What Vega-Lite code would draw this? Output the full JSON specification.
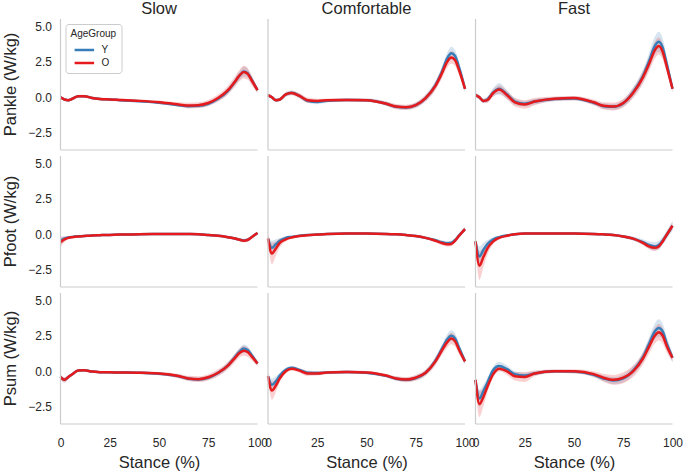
{
"$schema":"https://vega.github.io/schema/vega-lite/v6.json",
"padding":{"left":2.5,"top":0,"right":0,"bottom":0},
"bounds":"flush",
"config":{"font":"Liberation Sans","view":{"stroke":null},
 "axis":{"grid":false,"ticks":false,"domain":false,"labelFontSize":12,"labelColor":"#262626","titleFontSize":16.5,"titleFontWeight":"normal","titleColor":"#262626"},
 "header":{"labelFontSize":16.5,"labelColor":"#262626"}},
"data":{"values":[
{"m":"Pankle","s":"Slow","g":"Y","x":0,"y":0,"lo":-0.08,"hi":0.08},
{"m":"Pankle","s":"Slow","g":"Y","x":2,"y":-0.15,"lo":-0.23,"hi":-0.07},
{"m":"Pankle","s":"Slow","g":"Y","x":4,"y":-0.2,"lo":-0.28,"hi":-0.12},
{"m":"Pankle","s":"Slow","g":"Y","x":6,"y":-0.1,"lo":-0.18,"hi":-0.02},
{"m":"Pankle","s":"Slow","g":"Y","x":9,"y":0.08,"lo":0,"hi":0.16},
{"m":"Pankle","s":"Slow","g":"Y","x":12,"y":0.08,"lo":0,"hi":0.16},
{"m":"Pankle","s":"Slow","g":"Y","x":16,"y":-0.05,"lo":-0.13,"hi":0.03},
{"m":"Pankle","s":"Slow","g":"Y","x":20,"y":-0.12,"lo":-0.2,"hi":-0.04},
{"m":"Pankle","s":"Slow","g":"Y","x":25,"y":-0.15,"lo":-0.23,"hi":-0.07},
{"m":"Pankle","s":"Slow","g":"Y","x":30,"y":-0.2,"lo":-0.28,"hi":-0.12},
{"m":"Pankle","s":"Slow","g":"Y","x":40,"y":-0.28,"lo":-0.36,"hi":-0.2},
{"m":"Pankle","s":"Slow","g":"Y","x":50,"y":-0.38,"lo":-0.46,"hi":-0.3},
{"m":"Pankle","s":"Slow","g":"Y","x":60,"y":-0.55,"lo":-0.65,"hi":-0.45},
{"m":"Pankle","s":"Slow","g":"Y","x":65,"y":-0.62,"lo":-0.74,"hi":-0.5},
{"m":"Pankle","s":"Slow","g":"Y","x":70,"y":-0.6,"lo":-0.75,"hi":-0.45},
{"m":"Pankle","s":"Slow","g":"Y","x":75,"y":-0.45,"lo":-0.6,"hi":-0.3},
{"m":"Pankle","s":"Slow","g":"Y","x":80,"y":-0.1,"lo":-0.28,"hi":0.08},
{"m":"Pankle","s":"Slow","g":"Y","x":85,"y":0.45,"lo":0.23,"hi":0.67},
{"m":"Pankle","s":"Slow","g":"Y","x":88,"y":0.98,"lo":0.73,"hi":1.23},
{"m":"Pankle","s":"Slow","g":"Y","x":91,"y":1.55,"lo":1.25,"hi":1.85},
{"m":"Pankle","s":"Slow","g":"Y","x":93,"y":1.82,"lo":1.47,"hi":2.17},
{"m":"Pankle","s":"Slow","g":"Y","x":95,"y":1.7,"lo":1.4,"hi":2.0},
{"m":"Pankle","s":"Slow","g":"Y","x":97,"y":1.25,"lo":1.0,"hi":1.5},
{"m":"Pankle","s":"Slow","g":"Y","x":100,"y":0.5,"lo":0.35,"hi":0.65},
{"m":"Pankle","s":"Comfortable","g":"Y","x":0,"y":0.15,"lo":0.03,"hi":0.27},
{"m":"Pankle","s":"Comfortable","g":"Y","x":2,"y":0,"lo":-0.12,"hi":0.12},
{"m":"Pankle","s":"Comfortable","g":"Y","x":4,"y":-0.2,"lo":-0.32,"hi":-0.08},
{"m":"Pankle","s":"Comfortable","g":"Y","x":6,"y":-0.15,"lo":-0.27,"hi":-0.03},
{"m":"Pankle","s":"Comfortable","g":"Y","x":9,"y":0.2,"lo":0.05,"hi":0.35},
{"m":"Pankle","s":"Comfortable","g":"Y","x":12,"y":0.32,"lo":0.17,"hi":0.47},
{"m":"Pankle","s":"Comfortable","g":"Y","x":16,"y":0.1,"lo":-0.05,"hi":0.25},
{"m":"Pankle","s":"Comfortable","g":"Y","x":20,"y":-0.25,"lo":-0.4,"hi":-0.1},
{"m":"Pankle","s":"Comfortable","g":"Y","x":25,"y":-0.33,"lo":-0.48,"hi":-0.18},
{"m":"Pankle","s":"Comfortable","g":"Y","x":30,"y":-0.25,"lo":-0.37,"hi":-0.13},
{"m":"Pankle","s":"Comfortable","g":"Y","x":40,"y":-0.18,"lo":-0.3,"hi":-0.06},
{"m":"Pankle","s":"Comfortable","g":"Y","x":50,"y":-0.2,"lo":-0.32,"hi":-0.08},
{"m":"Pankle","s":"Comfortable","g":"Y","x":60,"y":-0.45,"lo":-0.6,"hi":-0.3},
{"m":"Pankle","s":"Comfortable","g":"Y","x":65,"y":-0.67,"lo":-0.82,"hi":-0.52},
{"m":"Pankle","s":"Comfortable","g":"Y","x":70,"y":-0.72,"lo":-0.87,"hi":-0.57},
{"m":"Pankle","s":"Comfortable","g":"Y","x":75,"y":-0.55,"lo":-0.73,"hi":-0.37},
{"m":"Pankle","s":"Comfortable","g":"Y","x":80,"y":-0.05,"lo":-0.27,"hi":0.17},
{"m":"Pankle","s":"Comfortable","g":"Y","x":85,"y":0.85,"lo":0.55,"hi":1.15},
{"m":"Pankle","s":"Comfortable","g":"Y","x":88,"y":1.7,"lo":1.35,"hi":2.05},
{"m":"Pankle","s":"Comfortable","g":"Y","x":91,"y":2.75,"lo":2.35,"hi":3.15},
{"m":"Pankle","s":"Comfortable","g":"Y","x":93,"y":3.1,"lo":2.65,"hi":3.55},
{"m":"Pankle","s":"Comfortable","g":"Y","x":95,"y":2.9,"lo":2.5,"hi":3.3},
{"m":"Pankle","s":"Comfortable","g":"Y","x":97,"y":2.1,"lo":1.75,"hi":2.45},
{"m":"Pankle","s":"Comfortable","g":"Y","x":100,"y":0.6,"lo":0.4,"hi":0.8},
{"m":"Pankle","s":"Fast","g":"Y","x":0,"y":0.15,"lo":0,"hi":0.3},
{"m":"Pankle","s":"Fast","g":"Y","x":2,"y":0,"lo":-0.15,"hi":0.15},
{"m":"Pankle","s":"Fast","g":"Y","x":4,"y":-0.25,"lo":-0.4,"hi":-0.1},
{"m":"Pankle","s":"Fast","g":"Y","x":6,"y":-0.15,"lo":-0.35,"hi":0.05},
{"m":"Pankle","s":"Fast","g":"Y","x":9,"y":0.35,"lo":0.05,"hi":0.65},
{"m":"Pankle","s":"Fast","g":"Y","x":12,"y":0.6,"lo":0.2,"hi":1.0},
{"m":"Pankle","s":"Fast","g":"Y","x":16,"y":0.2,"lo":-0.1,"hi":0.5},
{"m":"Pankle","s":"Fast","g":"Y","x":20,"y":-0.3,"lo":-0.55,"hi":-0.05},
{"m":"Pankle","s":"Fast","g":"Y","x":25,"y":-0.45,"lo":-0.65,"hi":-0.25},
{"m":"Pankle","s":"Fast","g":"Y","x":30,"y":-0.3,"lo":-0.5,"hi":-0.1},
{"m":"Pankle","s":"Fast","g":"Y","x":40,"y":-0.12,"lo":-0.27,"hi":0.03},
{"m":"Pankle","s":"Fast","g":"Y","x":50,"y":-0.08,"lo":-0.23,"hi":0.07},
{"m":"Pankle","s":"Fast","g":"Y","x":60,"y":-0.38,"lo":-0.53,"hi":-0.23},
{"m":"Pankle","s":"Fast","g":"Y","x":65,"y":-0.62,"lo":-0.82,"hi":-0.42},
{"m":"Pankle","s":"Fast","g":"Y","x":70,"y":-0.67,"lo":-0.87,"hi":-0.47},
{"m":"Pankle","s":"Fast","g":"Y","x":75,"y":-0.42,"lo":-0.67,"hi":-0.17},
{"m":"Pankle","s":"Fast","g":"Y","x":80,"y":0.35,"lo":0,"hi":0.7},
{"m":"Pankle","s":"Fast","g":"Y","x":85,"y":1.5,"lo":1.05,"hi":1.95},
{"m":"Pankle","s":"Fast","g":"Y","x":88,"y":2.5,"lo":1.95,"hi":3.05},
{"m":"Pankle","s":"Fast","g":"Y","x":91,"y":3.6,"lo":2.95,"hi":4.25},
{"m":"Pankle","s":"Fast","g":"Y","x":93,"y":3.9,"lo":3.2,"hi":4.6},
{"m":"Pankle","s":"Fast","g":"Y","x":95,"y":3.5,"lo":2.85,"hi":4.15},
{"m":"Pankle","s":"Fast","g":"Y","x":97,"y":2.4,"lo":1.9,"hi":2.9},
{"m":"Pankle","s":"Fast","g":"Y","x":100,"y":0.6,"lo":0.35,"hi":0.85},
{"m":"Pfoot","s":"Slow","g":"Y","x":0,"y":-0.45,"lo":-0.75,"hi":-0.15},
{"m":"Pfoot","s":"Slow","g":"Y","x":2,"y":-0.3,"lo":-0.45,"hi":-0.15},
{"m":"Pfoot","s":"Slow","g":"Y","x":4,"y":-0.22,"lo":-0.3,"hi":-0.14},
{"m":"Pfoot","s":"Slow","g":"Y","x":6,"y":-0.18,"lo":-0.24,"hi":-0.12},
{"m":"Pfoot","s":"Slow","g":"Y","x":9,"y":-0.14,"lo":-0.19,"hi":-0.09},
{"m":"Pfoot","s":"Slow","g":"Y","x":12,"y":-0.11,"lo":-0.16,"hi":-0.06},
{"m":"Pfoot","s":"Slow","g":"Y","x":16,"y":-0.08,"lo":-0.13,"hi":-0.03},
{"m":"Pfoot","s":"Slow","g":"Y","x":20,"y":-0.06,"lo":-0.11,"hi":-0.01},
{"m":"Pfoot","s":"Slow","g":"Y","x":25,"y":-0.04,"lo":-0.09,"hi":0.01},
{"m":"Pfoot","s":"Slow","g":"Y","x":30,"y":-0.02,"lo":-0.07,"hi":0.03},
{"m":"Pfoot","s":"Slow","g":"Y","x":40,"y":0,"lo":-0.05,"hi":0.05},
{"m":"Pfoot","s":"Slow","g":"Y","x":50,"y":0.02,"lo":-0.03,"hi":0.07},
{"m":"Pfoot","s":"Slow","g":"Y","x":60,"y":0.03,"lo":-0.02,"hi":0.08},
{"m":"Pfoot","s":"Slow","g":"Y","x":65,"y":0.02,"lo":-0.03,"hi":0.07},
{"m":"Pfoot","s":"Slow","g":"Y","x":70,"y":0,"lo":-0.05,"hi":0.05},
{"m":"Pfoot","s":"Slow","g":"Y","x":75,"y":-0.05,"lo":-0.11,"hi":0.01},
{"m":"Pfoot","s":"Slow","g":"Y","x":80,"y":-0.1,"lo":-0.16,"hi":-0.04},
{"m":"Pfoot","s":"Slow","g":"Y","x":85,"y":-0.2,"lo":-0.28,"hi":-0.12},
{"m":"Pfoot","s":"Slow","g":"Y","x":88,"y":-0.28,"lo":-0.36,"hi":-0.2},
{"m":"Pfoot","s":"Slow","g":"Y","x":91,"y":-0.38,"lo":-0.48,"hi":-0.28},
{"m":"Pfoot","s":"Slow","g":"Y","x":93,"y":-0.43,"lo":-0.53,"hi":-0.33},
{"m":"Pfoot","s":"Slow","g":"Y","x":95,"y":-0.38,"lo":-0.48,"hi":-0.28},
{"m":"Pfoot","s":"Slow","g":"Y","x":97,"y":-0.2,"lo":-0.3,"hi":-0.1},
{"m":"Pfoot","s":"Slow","g":"Y","x":100,"y":0.1,"lo":0,"hi":0.2},
{"m":"Pfoot","s":"Comfortable","g":"Y","x":0,"y":-0.3,"lo":-0.5,"hi":-0.1},
{"m":"Pfoot","s":"Comfortable","g":"Y","x":2,"y":-0.95,"lo":-1.45,"hi":-0.45},
{"m":"Pfoot","s":"Comfortable","g":"Y","x":4,"y":-0.7,"lo":-1.05,"hi":-0.35},
{"m":"Pfoot","s":"Comfortable","g":"Y","x":6,"y":-0.45,"lo":-0.65,"hi":-0.25},
{"m":"Pfoot","s":"Comfortable","g":"Y","x":9,"y":-0.25,"lo":-0.37,"hi":-0.13},
{"m":"Pfoot","s":"Comfortable","g":"Y","x":12,"y":-0.18,"lo":-0.26,"hi":-0.1},
{"m":"Pfoot","s":"Comfortable","g":"Y","x":16,"y":-0.1,"lo":-0.16,"hi":-0.04},
{"m":"Pfoot","s":"Comfortable","g":"Y","x":20,"y":-0.05,"lo":-0.1,"hi":0},
{"m":"Pfoot","s":"Comfortable","g":"Y","x":25,"y":-0.02,"lo":-0.07,"hi":0.03},
{"m":"Pfoot","s":"Comfortable","g":"Y","x":30,"y":0.02,"lo":-0.03,"hi":0.07},
{"m":"Pfoot","s":"Comfortable","g":"Y","x":40,"y":0.05,"lo":0,"hi":0.1},
{"m":"Pfoot","s":"Comfortable","g":"Y","x":50,"y":0.05,"lo":0,"hi":0.1},
{"m":"Pfoot","s":"Comfortable","g":"Y","x":60,"y":0.03,"lo":-0.02,"hi":0.08},
{"m":"Pfoot","s":"Comfortable","g":"Y","x":65,"y":0,"lo":-0.05,"hi":0.05},
{"m":"Pfoot","s":"Comfortable","g":"Y","x":70,"y":-0.05,"lo":-0.11,"hi":0.01},
{"m":"Pfoot","s":"Comfortable","g":"Y","x":75,"y":-0.12,"lo":-0.2,"hi":-0.04},
{"m":"Pfoot","s":"Comfortable","g":"Y","x":80,"y":-0.25,"lo":-0.35,"hi":-0.15},
{"m":"Pfoot","s":"Comfortable","g":"Y","x":85,"y":-0.42,"lo":-0.54,"hi":-0.3},
{"m":"Pfoot","s":"Comfortable","g":"Y","x":88,"y":-0.55,"lo":-0.7,"hi":-0.4},
{"m":"Pfoot","s":"Comfortable","g":"Y","x":91,"y":-0.62,"lo":-0.77,"hi":-0.47},
{"m":"Pfoot","s":"Comfortable","g":"Y","x":93,"y":-0.6,"lo":-0.75,"hi":-0.45},
{"m":"Pfoot","s":"Comfortable","g":"Y","x":95,"y":-0.4,"lo":-0.55,"hi":-0.25},
{"m":"Pfoot","s":"Comfortable","g":"Y","x":97,"y":-0.08,"lo":-0.23,"hi":0.07},
{"m":"Pfoot","s":"Comfortable","g":"Y","x":100,"y":0.37,"lo":0.22,"hi":0.52},
{"m":"Pfoot","s":"Fast","g":"Y","x":0,"y":-0.5,"lo":-0.8,"hi":-0.2},
{"m":"Pfoot","s":"Fast","g":"Y","x":2,"y":-1.55,"lo":-2.25,"hi":-0.85},
{"m":"Pfoot","s":"Fast","g":"Y","x":4,"y":-1.1,"lo":-1.6,"hi":-0.6},
{"m":"Pfoot","s":"Fast","g":"Y","x":6,"y":-0.7,"lo":-1.0,"hi":-0.4},
{"m":"Pfoot","s":"Fast","g":"Y","x":9,"y":-0.35,"lo":-0.5,"hi":-0.2},
{"m":"Pfoot","s":"Fast","g":"Y","x":12,"y":-0.2,"lo":-0.3,"hi":-0.1},
{"m":"Pfoot","s":"Fast","g":"Y","x":16,"y":-0.08,"lo":-0.15,"hi":-0.01},
{"m":"Pfoot","s":"Fast","g":"Y","x":20,"y":0,"lo":-0.06,"hi":0.06},
{"m":"Pfoot","s":"Fast","g":"Y","x":25,"y":0.05,"lo":0,"hi":0.1},
{"m":"Pfoot","s":"Fast","g":"Y","x":30,"y":0.05,"lo":0,"hi":0.1},
{"m":"Pfoot","s":"Fast","g":"Y","x":40,"y":0.05,"lo":0,"hi":0.1},
{"m":"Pfoot","s":"Fast","g":"Y","x":50,"y":0.05,"lo":0,"hi":0.1},
{"m":"Pfoot","s":"Fast","g":"Y","x":60,"y":0.03,"lo":-0.02,"hi":0.08},
{"m":"Pfoot","s":"Fast","g":"Y","x":65,"y":0,"lo":-0.05,"hi":0.05},
{"m":"Pfoot","s":"Fast","g":"Y","x":70,"y":-0.05,"lo":-0.13,"hi":0.03},
{"m":"Pfoot","s":"Fast","g":"Y","x":75,"y":-0.15,"lo":-0.25,"hi":-0.05},
{"m":"Pfoot","s":"Fast","g":"Y","x":80,"y":-0.3,"lo":-0.45,"hi":-0.15},
{"m":"Pfoot","s":"Fast","g":"Y","x":85,"y":-0.55,"lo":-0.75,"hi":-0.35},
{"m":"Pfoot","s":"Fast","g":"Y","x":88,"y":-0.75,"lo":-1.0,"hi":-0.5},
{"m":"Pfoot","s":"Fast","g":"Y","x":91,"y":-0.85,"lo":-1.15,"hi":-0.55},
{"m":"Pfoot","s":"Fast","g":"Y","x":93,"y":-0.75,"lo":-1.05,"hi":-0.45},
{"m":"Pfoot","s":"Fast","g":"Y","x":95,"y":-0.45,"lo":-0.75,"hi":-0.15},
{"m":"Pfoot","s":"Fast","g":"Y","x":97,"y":-0.05,"lo":-0.35,"hi":0.25},
{"m":"Pfoot","s":"Fast","g":"Y","x":100,"y":0.6,"lo":0.25,"hi":0.95},
{"m":"Psum","s":"Slow","g":"Y","x":0,"y":-0.4,"lo":-0.55,"hi":-0.25},
{"m":"Psum","s":"Slow","g":"Y","x":2,"y":-0.6,"lo":-0.75,"hi":-0.45},
{"m":"Psum","s":"Slow","g":"Y","x":4,"y":-0.4,"lo":-0.52,"hi":-0.28},
{"m":"Psum","s":"Slow","g":"Y","x":6,"y":-0.2,"lo":-0.3,"hi":-0.1},
{"m":"Psum","s":"Slow","g":"Y","x":9,"y":0.05,"lo":-0.03,"hi":0.13},
{"m":"Psum","s":"Slow","g":"Y","x":12,"y":0.08,"lo":0,"hi":0.16},
{"m":"Psum","s":"Slow","g":"Y","x":16,"y":-0.02,"lo":-0.1,"hi":0.06},
{"m":"Psum","s":"Slow","g":"Y","x":20,"y":-0.06,"lo":-0.14,"hi":0.02},
{"m":"Psum","s":"Slow","g":"Y","x":25,"y":-0.07,"lo":-0.15,"hi":0.01},
{"m":"Psum","s":"Slow","g":"Y","x":30,"y":-0.08,"lo":-0.16,"hi":0},
{"m":"Psum","s":"Slow","g":"Y","x":40,"y":-0.1,"lo":-0.18,"hi":-0.02},
{"m":"Psum","s":"Slow","g":"Y","x":50,"y":-0.17,"lo":-0.27,"hi":-0.07},
{"m":"Psum","s":"Slow","g":"Y","x":60,"y":-0.35,"lo":-0.47,"hi":-0.23},
{"m":"Psum","s":"Slow","g":"Y","x":65,"y":-0.52,"lo":-0.67,"hi":-0.37},
{"m":"Psum","s":"Slow","g":"Y","x":70,"y":-0.57,"lo":-0.72,"hi":-0.42},
{"m":"Psum","s":"Slow","g":"Y","x":75,"y":-0.45,"lo":-0.6,"hi":-0.3},
{"m":"Psum","s":"Slow","g":"Y","x":80,"y":-0.12,"lo":-0.3,"hi":0.06},
{"m":"Psum","s":"Slow","g":"Y","x":85,"y":0.42,"lo":0.22,"hi":0.62},
{"m":"Psum","s":"Slow","g":"Y","x":88,"y":0.9,"lo":0.68,"hi":1.12},
{"m":"Psum","s":"Slow","g":"Y","x":91,"y":1.4,"lo":1.15,"hi":1.65},
{"m":"Psum","s":"Slow","g":"Y","x":93,"y":1.6,"lo":1.32,"hi":1.88},
{"m":"Psum","s":"Slow","g":"Y","x":95,"y":1.5,"lo":1.25,"hi":1.75},
{"m":"Psum","s":"Slow","g":"Y","x":97,"y":1.15,"lo":0.93,"hi":1.37},
{"m":"Psum","s":"Slow","g":"Y","x":100,"y":0.55,"lo":0.4,"hi":0.7},
{"m":"Psum","s":"Comfortable","g":"Y","x":0,"y":-0.35,"lo":-0.55,"hi":-0.15},
{"m":"Psum","s":"Comfortable","g":"Y","x":2,"y":-0.95,"lo":-1.4,"hi":-0.5},
{"m":"Psum","s":"Comfortable","g":"Y","x":4,"y":-0.7,"lo":-1.05,"hi":-0.35},
{"m":"Psum","s":"Comfortable","g":"Y","x":6,"y":-0.3,"lo":-0.5,"hi":-0.1},
{"m":"Psum","s":"Comfortable","g":"Y","x":9,"y":0.1,"lo":-0.05,"hi":0.25},
{"m":"Psum","s":"Comfortable","g":"Y","x":12,"y":0.25,"lo":0.13,"hi":0.37},
{"m":"Psum","s":"Comfortable","g":"Y","x":16,"y":0.1,"lo":-0.02,"hi":0.22},
{"m":"Psum","s":"Comfortable","g":"Y","x":20,"y":-0.1,"lo":-0.25,"hi":0.05},
{"m":"Psum","s":"Comfortable","g":"Y","x":25,"y":-0.12,"lo":-0.24,"hi":0},
{"m":"Psum","s":"Comfortable","g":"Y","x":30,"y":-0.08,"lo":-0.18,"hi":0.02},
{"m":"Psum","s":"Comfortable","g":"Y","x":40,"y":-0.05,"lo":-0.15,"hi":0.05},
{"m":"Psum","s":"Comfortable","g":"Y","x":50,"y":-0.1,"lo":-0.2,"hi":0},
{"m":"Psum","s":"Comfortable","g":"Y","x":60,"y":-0.32,"lo":-0.44,"hi":-0.2},
{"m":"Psum","s":"Comfortable","g":"Y","x":65,"y":-0.52,"lo":-0.67,"hi":-0.37},
{"m":"Psum","s":"Comfortable","g":"Y","x":70,"y":-0.6,"lo":-0.75,"hi":-0.45},
{"m":"Psum","s":"Comfortable","g":"Y","x":75,"y":-0.47,"lo":-0.65,"hi":-0.29},
{"m":"Psum","s":"Comfortable","g":"Y","x":80,"y":-0.1,"lo":-0.3,"hi":0.1},
{"m":"Psum","s":"Comfortable","g":"Y","x":85,"y":0.75,"lo":0.47,"hi":1.03},
{"m":"Psum","s":"Comfortable","g":"Y","x":88,"y":1.5,"lo":1.2,"hi":1.8},
{"m":"Psum","s":"Comfortable","g":"Y","x":91,"y":2.25,"lo":1.9,"hi":2.6},
{"m":"Psum","s":"Comfortable","g":"Y","x":93,"y":2.5,"lo":2.12,"hi":2.88},
{"m":"Psum","s":"Comfortable","g":"Y","x":95,"y":2.3,"lo":1.95,"hi":2.65},
{"m":"Psum","s":"Comfortable","g":"Y","x":97,"y":1.65,"lo":1.35,"hi":1.95},
{"m":"Psum","s":"Comfortable","g":"Y","x":100,"y":0.7,"lo":0.5,"hi":0.9},
{"m":"Psum","s":"Fast","g":"Y","x":0,"y":-0.6,"lo":-0.85,"hi":-0.35},
{"m":"Psum","s":"Fast","g":"Y","x":2,"y":-1.9,"lo":-2.5,"hi":-1.3},
{"m":"Psum","s":"Fast","g":"Y","x":4,"y":-1.4,"lo":-1.85,"hi":-0.95},
{"m":"Psum","s":"Fast","g":"Y","x":6,"y":-0.8,"lo":-1.1,"hi":-0.5},
{"m":"Psum","s":"Fast","g":"Y","x":9,"y":0.1,"lo":-0.15,"hi":0.35},
{"m":"Psum","s":"Fast","g":"Y","x":12,"y":0.37,"lo":0.07,"hi":0.67},
{"m":"Psum","s":"Fast","g":"Y","x":16,"y":0.15,"lo":-0.1,"hi":0.4},
{"m":"Psum","s":"Fast","g":"Y","x":20,"y":-0.2,"lo":-0.4,"hi":0},
{"m":"Psum","s":"Fast","g":"Y","x":25,"y":-0.3,"lo":-0.5,"hi":-0.1},
{"m":"Psum","s":"Fast","g":"Y","x":30,"y":-0.15,"lo":-0.3,"hi":0},
{"m":"Psum","s":"Fast","g":"Y","x":40,"y":0,"lo":-0.12,"hi":0.12},
{"m":"Psum","s":"Fast","g":"Y","x":50,"y":-0.02,"lo":-0.14,"hi":0.1},
{"m":"Psum","s":"Fast","g":"Y","x":60,"y":-0.25,"lo":-0.4,"hi":-0.1},
{"m":"Psum","s":"Fast","g":"Y","x":65,"y":-0.5,"lo":-0.7,"hi":-0.3},
{"m":"Psum","s":"Fast","g":"Y","x":70,"y":-0.65,"lo":-0.9,"hi":-0.4},
{"m":"Psum","s":"Fast","g":"Y","x":75,"y":-0.5,"lo":-0.78,"hi":-0.22},
{"m":"Psum","s":"Fast","g":"Y","x":80,"y":0.05,"lo":-0.25,"hi":0.35},
{"m":"Psum","s":"Fast","g":"Y","x":85,"y":1.0,"lo":0.62,"hi":1.38},
{"m":"Psum","s":"Fast","g":"Y","x":88,"y":1.9,"lo":1.45,"hi":2.35},
{"m":"Psum","s":"Fast","g":"Y","x":91,"y":2.8,"lo":2.25,"hi":3.35},
{"m":"Psum","s":"Fast","g":"Y","x":93,"y":3.05,"lo":2.45,"hi":3.65},
{"m":"Psum","s":"Fast","g":"Y","x":95,"y":2.8,"lo":2.25,"hi":3.35},
{"m":"Psum","s":"Fast","g":"Y","x":97,"y":2.0,"lo":1.55,"hi":2.45},
{"m":"Psum","s":"Fast","g":"Y","x":100,"y":0.95,"lo":0.65,"hi":1.25},
{"m":"Pankle","s":"Slow","g":"O","x":0,"y":0,"lo":-0.1,"hi":0.1},
{"m":"Pankle","s":"Slow","g":"O","x":2,"y":-0.15,"lo":-0.25,"hi":-0.05},
{"m":"Pankle","s":"Slow","g":"O","x":4,"y":-0.2,"lo":-0.3,"hi":-0.1},
{"m":"Pankle","s":"Slow","g":"O","x":6,"y":-0.1,"lo":-0.2,"hi":0},
{"m":"Pankle","s":"Slow","g":"O","x":9,"y":0.08,"lo":-0.02,"hi":0.18},
{"m":"Pankle","s":"Slow","g":"O","x":12,"y":0.08,"lo":-0.02,"hi":0.18},
{"m":"Pankle","s":"Slow","g":"O","x":16,"y":-0.05,"lo":-0.15,"hi":0.05},
{"m":"Pankle","s":"Slow","g":"O","x":20,"y":-0.12,"lo":-0.22,"hi":-0.02},
{"m":"Pankle","s":"Slow","g":"O","x":25,"y":-0.15,"lo":-0.25,"hi":-0.05},
{"m":"Pankle","s":"Slow","g":"O","x":30,"y":-0.18,"lo":-0.28,"hi":-0.08},
{"m":"Pankle","s":"Slow","g":"O","x":40,"y":-0.25,"lo":-0.35,"hi":-0.15},
{"m":"Pankle","s":"Slow","g":"O","x":50,"y":-0.35,"lo":-0.47,"hi":-0.23},
{"m":"Pankle","s":"Slow","g":"O","x":60,"y":-0.5,"lo":-0.65,"hi":-0.35},
{"m":"Pankle","s":"Slow","g":"O","x":65,"y":-0.58,"lo":-0.78,"hi":-0.38},
{"m":"Pankle","s":"Slow","g":"O","x":70,"y":-0.55,"lo":-0.75,"hi":-0.35},
{"m":"Pankle","s":"Slow","g":"O","x":75,"y":-0.4,"lo":-0.62,"hi":-0.18},
{"m":"Pankle","s":"Slow","g":"O","x":80,"y":-0.05,"lo":-0.3,"hi":0.2},
{"m":"Pankle","s":"Slow","g":"O","x":85,"y":0.5,"lo":0.2,"hi":0.8},
{"m":"Pankle","s":"Slow","g":"O","x":88,"y":1.0,"lo":0.65,"hi":1.35},
{"m":"Pankle","s":"Slow","g":"O","x":91,"y":1.55,"lo":1.15,"hi":1.95},
{"m":"Pankle","s":"Slow","g":"O","x":93,"y":1.78,"lo":1.33,"hi":2.23},
{"m":"Pankle","s":"Slow","g":"O","x":95,"y":1.65,"lo":1.25,"hi":2.05},
{"m":"Pankle","s":"Slow","g":"O","x":97,"y":1.2,"lo":0.85,"hi":1.55},
{"m":"Pankle","s":"Slow","g":"O","x":100,"y":0.5,"lo":0.3,"hi":0.7},
{"m":"Pankle","s":"Comfortable","g":"O","x":0,"y":0.15,"lo":0.03,"hi":0.27},
{"m":"Pankle","s":"Comfortable","g":"O","x":2,"y":0,"lo":-0.12,"hi":0.12},
{"m":"Pankle","s":"Comfortable","g":"O","x":4,"y":-0.2,"lo":-0.32,"hi":-0.08},
{"m":"Pankle","s":"Comfortable","g":"O","x":6,"y":-0.15,"lo":-0.27,"hi":-0.03},
{"m":"Pankle","s":"Comfortable","g":"O","x":9,"y":0.2,"lo":0.05,"hi":0.35},
{"m":"Pankle","s":"Comfortable","g":"O","x":12,"y":0.3,"lo":0.15,"hi":0.45},
{"m":"Pankle","s":"Comfortable","g":"O","x":16,"y":0.1,"lo":-0.08,"hi":0.28},
{"m":"Pankle","s":"Comfortable","g":"O","x":20,"y":-0.2,"lo":-0.38,"hi":-0.02},
{"m":"Pankle","s":"Comfortable","g":"O","x":25,"y":-0.25,"lo":-0.4,"hi":-0.1},
{"m":"Pankle","s":"Comfortable","g":"O","x":30,"y":-0.2,"lo":-0.32,"hi":-0.08},
{"m":"Pankle","s":"Comfortable","g":"O","x":40,"y":-0.18,"lo":-0.3,"hi":-0.06},
{"m":"Pankle","s":"Comfortable","g":"O","x":50,"y":-0.2,"lo":-0.32,"hi":-0.08},
{"m":"Pankle","s":"Comfortable","g":"O","x":60,"y":-0.45,"lo":-0.6,"hi":-0.3},
{"m":"Pankle","s":"Comfortable","g":"O","x":65,"y":-0.65,"lo":-0.83,"hi":-0.47},
{"m":"Pankle","s":"Comfortable","g":"O","x":70,"y":-0.7,"lo":-0.88,"hi":-0.52},
{"m":"Pankle","s":"Comfortable","g":"O","x":75,"y":-0.55,"lo":-0.75,"hi":-0.35},
{"m":"Pankle","s":"Comfortable","g":"O","x":80,"y":-0.05,"lo":-0.3,"hi":0.2},
{"m":"Pankle","s":"Comfortable","g":"O","x":85,"y":0.8,"lo":0.5,"hi":1.1},
{"m":"Pankle","s":"Comfortable","g":"O","x":88,"y":1.6,"lo":1.25,"hi":1.95},
{"m":"Pankle","s":"Comfortable","g":"O","x":91,"y":2.5,"lo":2.1,"hi":2.9},
{"m":"Pankle","s":"Comfortable","g":"O","x":93,"y":2.8,"lo":2.35,"hi":3.25},
{"m":"Pankle","s":"Comfortable","g":"O","x":95,"y":2.6,"lo":2.18,"hi":3.02},
{"m":"Pankle","s":"Comfortable","g":"O","x":97,"y":1.9,"lo":1.55,"hi":2.25},
{"m":"Pankle","s":"Comfortable","g":"O","x":100,"y":0.6,"lo":0.4,"hi":0.8},
{"m":"Pankle","s":"Fast","g":"O","x":0,"y":0.15,"lo":0,"hi":0.3},
{"m":"Pankle","s":"Fast","g":"O","x":2,"y":0,"lo":-0.15,"hi":0.15},
{"m":"Pankle","s":"Fast","g":"O","x":4,"y":-0.25,"lo":-0.4,"hi":-0.1},
{"m":"Pankle","s":"Fast","g":"O","x":6,"y":-0.2,"lo":-0.4,"hi":0},
{"m":"Pankle","s":"Fast","g":"O","x":9,"y":0.3,"lo":0.05,"hi":0.55},
{"m":"Pankle","s":"Fast","g":"O","x":12,"y":0.55,"lo":0.25,"hi":0.85},
{"m":"Pankle","s":"Fast","g":"O","x":16,"y":0.15,"lo":-0.15,"hi":0.45},
{"m":"Pankle","s":"Fast","g":"O","x":20,"y":-0.35,"lo":-0.65,"hi":-0.05},
{"m":"Pankle","s":"Fast","g":"O","x":25,"y":-0.5,"lo":-0.8,"hi":-0.2},
{"m":"Pankle","s":"Fast","g":"O","x":30,"y":-0.3,"lo":-0.55,"hi":-0.05},
{"m":"Pankle","s":"Fast","g":"O","x":40,"y":-0.1,"lo":-0.25,"hi":0.05},
{"m":"Pankle","s":"Fast","g":"O","x":50,"y":-0.05,"lo":-0.2,"hi":0.1},
{"m":"Pankle","s":"Fast","g":"O","x":60,"y":-0.35,"lo":-0.55,"hi":-0.15},
{"m":"Pankle","s":"Fast","g":"O","x":65,"y":-0.6,"lo":-0.85,"hi":-0.35},
{"m":"Pankle","s":"Fast","g":"O","x":70,"y":-0.65,"lo":-0.93,"hi":-0.37},
{"m":"Pankle","s":"Fast","g":"O","x":75,"y":-0.4,"lo":-0.7,"hi":-0.1},
{"m":"Pankle","s":"Fast","g":"O","x":80,"y":0.3,"lo":-0.05,"hi":0.65},
{"m":"Pankle","s":"Fast","g":"O","x":85,"y":1.4,"lo":0.95,"hi":1.85},
{"m":"Pankle","s":"Fast","g":"O","x":88,"y":2.3,"lo":1.8,"hi":2.8},
{"m":"Pankle","s":"Fast","g":"O","x":91,"y":3.3,"lo":2.7,"hi":3.9},
{"m":"Pankle","s":"Fast","g":"O","x":93,"y":3.6,"lo":3.0,"hi":4.2},
{"m":"Pankle","s":"Fast","g":"O","x":95,"y":3.2,"lo":2.65,"hi":3.75},
{"m":"Pankle","s":"Fast","g":"O","x":97,"y":2.2,"lo":1.75,"hi":2.65},
{"m":"Pankle","s":"Fast","g":"O","x":100,"y":0.6,"lo":0.35,"hi":0.85},
{"m":"Pfoot","s":"Slow","g":"O","x":0,"y":-0.55,"lo":-0.9,"hi":-0.2},
{"m":"Pfoot","s":"Slow","g":"O","x":2,"y":-0.35,"lo":-0.55,"hi":-0.15},
{"m":"Pfoot","s":"Slow","g":"O","x":4,"y":-0.25,"lo":-0.35,"hi":-0.15},
{"m":"Pfoot","s":"Slow","g":"O","x":6,"y":-0.2,"lo":-0.27,"hi":-0.13},
{"m":"Pfoot","s":"Slow","g":"O","x":9,"y":-0.15,"lo":-0.2,"hi":-0.1},
{"m":"Pfoot","s":"Slow","g":"O","x":12,"y":-0.12,"lo":-0.17,"hi":-0.07},
{"m":"Pfoot","s":"Slow","g":"O","x":16,"y":-0.08,"lo":-0.13,"hi":-0.03},
{"m":"Pfoot","s":"Slow","g":"O","x":20,"y":-0.06,"lo":-0.11,"hi":-0.01},
{"m":"Pfoot","s":"Slow","g":"O","x":25,"y":-0.04,"lo":-0.09,"hi":0.01},
{"m":"Pfoot","s":"Slow","g":"O","x":30,"y":-0.02,"lo":-0.07,"hi":0.03},
{"m":"Pfoot","s":"Slow","g":"O","x":40,"y":0,"lo":-0.05,"hi":0.05},
{"m":"Pfoot","s":"Slow","g":"O","x":50,"y":0.02,"lo":-0.03,"hi":0.07},
{"m":"Pfoot","s":"Slow","g":"O","x":60,"y":0.03,"lo":-0.02,"hi":0.08},
{"m":"Pfoot","s":"Slow","g":"O","x":65,"y":0.02,"lo":-0.03,"hi":0.07},
{"m":"Pfoot","s":"Slow","g":"O","x":70,"y":0,"lo":-0.05,"hi":0.05},
{"m":"Pfoot","s":"Slow","g":"O","x":75,"y":-0.05,"lo":-0.11,"hi":0.01},
{"m":"Pfoot","s":"Slow","g":"O","x":80,"y":-0.1,"lo":-0.17,"hi":-0.03},
{"m":"Pfoot","s":"Slow","g":"O","x":85,"y":-0.2,"lo":-0.28,"hi":-0.12},
{"m":"Pfoot","s":"Slow","g":"O","x":88,"y":-0.28,"lo":-0.38,"hi":-0.18},
{"m":"Pfoot","s":"Slow","g":"O","x":91,"y":-0.38,"lo":-0.5,"hi":-0.26},
{"m":"Pfoot","s":"Slow","g":"O","x":93,"y":-0.45,"lo":-0.57,"hi":-0.33},
{"m":"Pfoot","s":"Slow","g":"O","x":95,"y":-0.4,"lo":-0.52,"hi":-0.28},
{"m":"Pfoot","s":"Slow","g":"O","x":97,"y":-0.2,"lo":-0.3,"hi":-0.1},
{"m":"Pfoot","s":"Slow","g":"O","x":100,"y":0.1,"lo":0,"hi":0.2},
{"m":"Pfoot","s":"Comfortable","g":"O","x":0,"y":-0.3,"lo":-0.55,"hi":-0.05},
{"m":"Pfoot","s":"Comfortable","g":"O","x":2,"y":-1.35,"lo":-2.1,"hi":-0.6},
{"m":"Pfoot","s":"Comfortable","g":"O","x":4,"y":-1.0,"lo":-1.5,"hi":-0.5},
{"m":"Pfoot","s":"Comfortable","g":"O","x":6,"y":-0.6,"lo":-0.9,"hi":-0.3},
{"m":"Pfoot","s":"Comfortable","g":"O","x":9,"y":-0.35,"lo":-0.5,"hi":-0.2},
{"m":"Pfoot","s":"Comfortable","g":"O","x":12,"y":-0.22,"lo":-0.32,"hi":-0.12},
{"m":"Pfoot","s":"Comfortable","g":"O","x":16,"y":-0.12,"lo":-0.18,"hi":-0.06},
{"m":"Pfoot","s":"Comfortable","g":"O","x":20,"y":-0.06,"lo":-0.11,"hi":-0.01},
{"m":"Pfoot","s":"Comfortable","g":"O","x":25,"y":-0.02,"lo":-0.07,"hi":0.03},
{"m":"Pfoot","s":"Comfortable","g":"O","x":30,"y":0.02,"lo":-0.03,"hi":0.07},
{"m":"Pfoot","s":"Comfortable","g":"O","x":40,"y":0.05,"lo":0,"hi":0.1},
{"m":"Pfoot","s":"Comfortable","g":"O","x":50,"y":0.05,"lo":0,"hi":0.1},
{"m":"Pfoot","s":"Comfortable","g":"O","x":60,"y":0.03,"lo":-0.02,"hi":0.08},
{"m":"Pfoot","s":"Comfortable","g":"O","x":65,"y":0,"lo":-0.05,"hi":0.05},
{"m":"Pfoot","s":"Comfortable","g":"O","x":70,"y":-0.05,"lo":-0.11,"hi":0.01},
{"m":"Pfoot","s":"Comfortable","g":"O","x":75,"y":-0.12,"lo":-0.2,"hi":-0.04},
{"m":"Pfoot","s":"Comfortable","g":"O","x":80,"y":-0.25,"lo":-0.35,"hi":-0.15},
{"m":"Pfoot","s":"Comfortable","g":"O","x":85,"y":-0.45,"lo":-0.57,"hi":-0.33},
{"m":"Pfoot","s":"Comfortable","g":"O","x":88,"y":-0.6,"lo":-0.75,"hi":-0.45},
{"m":"Pfoot","s":"Comfortable","g":"O","x":91,"y":-0.7,"lo":-0.85,"hi":-0.55},
{"m":"Pfoot","s":"Comfortable","g":"O","x":93,"y":-0.68,"lo":-0.83,"hi":-0.53},
{"m":"Pfoot","s":"Comfortable","g":"O","x":95,"y":-0.45,"lo":-0.6,"hi":-0.3},
{"m":"Pfoot","s":"Comfortable","g":"O","x":97,"y":-0.1,"lo":-0.25,"hi":0.05},
{"m":"Pfoot","s":"Comfortable","g":"O","x":100,"y":0.37,"lo":0.22,"hi":0.52},
{"m":"Pfoot","s":"Fast","g":"O","x":0,"y":-0.5,"lo":-0.85,"hi":-0.15},
{"m":"Pfoot","s":"Fast","g":"O","x":2,"y":-2.2,"lo":-3.2,"hi":-1.2},
{"m":"Pfoot","s":"Fast","g":"O","x":4,"y":-1.6,"lo":-2.3,"hi":-0.9},
{"m":"Pfoot","s":"Fast","g":"O","x":6,"y":-1.0,"lo":-1.45,"hi":-0.55},
{"m":"Pfoot","s":"Fast","g":"O","x":9,"y":-0.5,"lo":-0.7,"hi":-0.3},
{"m":"Pfoot","s":"Fast","g":"O","x":12,"y":-0.25,"lo":-0.37,"hi":-0.13},
{"m":"Pfoot","s":"Fast","g":"O","x":16,"y":-0.1,"lo":-0.18,"hi":-0.02},
{"m":"Pfoot","s":"Fast","g":"O","x":20,"y":0,"lo":-0.06,"hi":0.06},
{"m":"Pfoot","s":"Fast","g":"O","x":25,"y":0.05,"lo":0,"hi":0.1},
{"m":"Pfoot","s":"Fast","g":"O","x":30,"y":0.05,"lo":0,"hi":0.1},
{"m":"Pfoot","s":"Fast","g":"O","x":40,"y":0.05,"lo":0,"hi":0.1},
{"m":"Pfoot","s":"Fast","g":"O","x":50,"y":0.05,"lo":0,"hi":0.1},
{"m":"Pfoot","s":"Fast","g":"O","x":60,"y":0.03,"lo":-0.02,"hi":0.08},
{"m":"Pfoot","s":"Fast","g":"O","x":65,"y":0,"lo":-0.05,"hi":0.05},
{"m":"Pfoot","s":"Fast","g":"O","x":70,"y":-0.05,"lo":-0.13,"hi":0.03},
{"m":"Pfoot","s":"Fast","g":"O","x":75,"y":-0.15,"lo":-0.25,"hi":-0.05},
{"m":"Pfoot","s":"Fast","g":"O","x":80,"y":-0.3,"lo":-0.42,"hi":-0.18},
{"m":"Pfoot","s":"Fast","g":"O","x":85,"y":-0.6,"lo":-0.75,"hi":-0.45},
{"m":"Pfoot","s":"Fast","g":"O","x":88,"y":-0.85,"lo":-1.05,"hi":-0.65},
{"m":"Pfoot","s":"Fast","g":"O","x":91,"y":-0.95,"lo":-1.17,"hi":-0.73},
{"m":"Pfoot","s":"Fast","g":"O","x":93,"y":-0.85,"lo":-1.07,"hi":-0.63},
{"m":"Pfoot","s":"Fast","g":"O","x":95,"y":-0.5,"lo":-0.7,"hi":-0.3},
{"m":"Pfoot","s":"Fast","g":"O","x":97,"y":-0.05,"lo":-0.25,"hi":0.15},
{"m":"Pfoot","s":"Fast","g":"O","x":100,"y":0.6,"lo":0.35,"hi":0.85},
{"m":"Psum","s":"Slow","g":"O","x":0,"y":-0.4,"lo":-0.6,"hi":-0.2},
{"m":"Psum","s":"Slow","g":"O","x":2,"y":-0.6,"lo":-0.8,"hi":-0.4},
{"m":"Psum","s":"Slow","g":"O","x":4,"y":-0.4,"lo":-0.55,"hi":-0.25},
{"m":"Psum","s":"Slow","g":"O","x":6,"y":-0.2,"lo":-0.3,"hi":-0.1},
{"m":"Psum","s":"Slow","g":"O","x":9,"y":0.05,"lo":-0.03,"hi":0.13},
{"m":"Psum","s":"Slow","g":"O","x":12,"y":0.08,"lo":0,"hi":0.16},
{"m":"Psum","s":"Slow","g":"O","x":16,"y":-0.02,"lo":-0.1,"hi":0.06},
{"m":"Psum","s":"Slow","g":"O","x":20,"y":-0.06,"lo":-0.14,"hi":0.02},
{"m":"Psum","s":"Slow","g":"O","x":25,"y":-0.07,"lo":-0.15,"hi":0.01},
{"m":"Psum","s":"Slow","g":"O","x":30,"y":-0.08,"lo":-0.16,"hi":0},
{"m":"Psum","s":"Slow","g":"O","x":40,"y":-0.1,"lo":-0.18,"hi":-0.02},
{"m":"Psum","s":"Slow","g":"O","x":50,"y":-0.15,"lo":-0.25,"hi":-0.05},
{"m":"Psum","s":"Slow","g":"O","x":60,"y":-0.33,"lo":-0.48,"hi":-0.18},
{"m":"Psum","s":"Slow","g":"O","x":65,"y":-0.5,"lo":-0.68,"hi":-0.32},
{"m":"Psum","s":"Slow","g":"O","x":70,"y":-0.55,"lo":-0.75,"hi":-0.35},
{"m":"Psum","s":"Slow","g":"O","x":75,"y":-0.42,"lo":-0.64,"hi":-0.2},
{"m":"Psum","s":"Slow","g":"O","x":80,"y":-0.1,"lo":-0.35,"hi":0.15},
{"m":"Psum","s":"Slow","g":"O","x":85,"y":0.4,"lo":0.12,"hi":0.68},
{"m":"Psum","s":"Slow","g":"O","x":88,"y":0.85,"lo":0.55,"hi":1.15},
{"m":"Psum","s":"Slow","g":"O","x":91,"y":1.3,"lo":0.98,"hi":1.62},
{"m":"Psum","s":"Slow","g":"O","x":93,"y":1.45,"lo":1.1,"hi":1.8},
{"m":"Psum","s":"Slow","g":"O","x":95,"y":1.35,"lo":1.03,"hi":1.67},
{"m":"Psum","s":"Slow","g":"O","x":97,"y":1.05,"lo":0.77,"hi":1.33},
{"m":"Psum","s":"Slow","g":"O","x":100,"y":0.55,"lo":0.35,"hi":0.75},
{"m":"Psum","s":"Comfortable","g":"O","x":0,"y":-0.35,"lo":-0.6,"hi":-0.1},
{"m":"Psum","s":"Comfortable","g":"O","x":2,"y":-1.35,"lo":-2.0,"hi":-0.7},
{"m":"Psum","s":"Comfortable","g":"O","x":4,"y":-1.0,"lo":-1.45,"hi":-0.55},
{"m":"Psum","s":"Comfortable","g":"O","x":6,"y":-0.5,"lo":-0.75,"hi":-0.25},
{"m":"Psum","s":"Comfortable","g":"O","x":9,"y":0,"lo":-0.15,"hi":0.15},
{"m":"Psum","s":"Comfortable","g":"O","x":12,"y":0.18,"lo":0.06,"hi":0.3},
{"m":"Psum","s":"Comfortable","g":"O","x":16,"y":0.05,"lo":-0.1,"hi":0.2},
{"m":"Psum","s":"Comfortable","g":"O","x":20,"y":-0.15,"lo":-0.33,"hi":0.03},
{"m":"Psum","s":"Comfortable","g":"O","x":25,"y":-0.15,"lo":-0.3,"hi":0},
{"m":"Psum","s":"Comfortable","g":"O","x":30,"y":-0.08,"lo":-0.18,"hi":0.02},
{"m":"Psum","s":"Comfortable","g":"O","x":40,"y":-0.05,"lo":-0.15,"hi":0.05},
{"m":"Psum","s":"Comfortable","g":"O","x":50,"y":-0.08,"lo":-0.18,"hi":0.02},
{"m":"Psum","s":"Comfortable","g":"O","x":60,"y":-0.3,"lo":-0.42,"hi":-0.18},
{"m":"Psum","s":"Comfortable","g":"O","x":65,"y":-0.5,"lo":-0.65,"hi":-0.35},
{"m":"Psum","s":"Comfortable","g":"O","x":70,"y":-0.58,"lo":-0.76,"hi":-0.4},
{"m":"Psum","s":"Comfortable","g":"O","x":75,"y":-0.45,"lo":-0.65,"hi":-0.25},
{"m":"Psum","s":"Comfortable","g":"O","x":80,"y":-0.1,"lo":-0.32,"hi":0.12},
{"m":"Psum","s":"Comfortable","g":"O","x":85,"y":0.7,"lo":0.42,"hi":0.98},
{"m":"Psum","s":"Comfortable","g":"O","x":88,"y":1.4,"lo":1.08,"hi":1.72},
{"m":"Psum","s":"Comfortable","g":"O","x":91,"y":2.05,"lo":1.67,"hi":2.43},
{"m":"Psum","s":"Comfortable","g":"O","x":93,"y":2.3,"lo":1.9,"hi":2.7},
{"m":"Psum","s":"Comfortable","g":"O","x":95,"y":2.1,"lo":1.72,"hi":2.48},
{"m":"Psum","s":"Comfortable","g":"O","x":97,"y":1.5,"lo":1.18,"hi":1.82},
{"m":"Psum","s":"Comfortable","g":"O","x":100,"y":0.7,"lo":0.5,"hi":0.9},
{"m":"Psum","s":"Fast","g":"O","x":0,"y":-0.6,"lo":-0.9,"hi":-0.3},
{"m":"Psum","s":"Fast","g":"O","x":2,"y":-2.3,"lo":-3.2,"hi":-1.4},
{"m":"Psum","s":"Fast","g":"O","x":4,"y":-1.8,"lo":-2.45,"hi":-1.15},
{"m":"Psum","s":"Fast","g":"O","x":6,"y":-1.1,"lo":-1.5,"hi":-0.7},
{"m":"Psum","s":"Fast","g":"O","x":9,"y":-0.2,"lo":-0.45,"hi":0.05},
{"m":"Psum","s":"Fast","g":"O","x":12,"y":0.18,"lo":-0.02,"hi":0.38},
{"m":"Psum","s":"Fast","g":"O","x":16,"y":0,"lo":-0.25,"hi":0.25},
{"m":"Psum","s":"Fast","g":"O","x":20,"y":-0.35,"lo":-0.65,"hi":-0.05},
{"m":"Psum","s":"Fast","g":"O","x":25,"y":-0.4,"lo":-0.75,"hi":-0.05},
{"m":"Psum","s":"Fast","g":"O","x":30,"y":-0.15,"lo":-0.35,"hi":0.05},
{"m":"Psum","s":"Fast","g":"O","x":40,"y":0,"lo":-0.12,"hi":0.12},
{"m":"Psum","s":"Fast","g":"O","x":50,"y":0,"lo":-0.15,"hi":0.15},
{"m":"Psum","s":"Fast","g":"O","x":60,"y":-0.2,"lo":-0.4,"hi":0},
{"m":"Psum","s":"Fast","g":"O","x":65,"y":-0.45,"lo":-0.73,"hi":-0.17},
{"m":"Psum","s":"Fast","g":"O","x":70,"y":-0.6,"lo":-0.95,"hi":-0.25},
{"m":"Psum","s":"Fast","g":"O","x":75,"y":-0.45,"lo":-0.83,"hi":-0.07},
{"m":"Psum","s":"Fast","g":"O","x":80,"y":0,"lo":-0.4,"hi":0.4},
{"m":"Psum","s":"Fast","g":"O","x":85,"y":0.9,"lo":0.48,"hi":1.32},
{"m":"Psum","s":"Fast","g":"O","x":88,"y":1.7,"lo":1.22,"hi":2.18},
{"m":"Psum","s":"Fast","g":"O","x":91,"y":2.5,"lo":1.95,"hi":3.05},
{"m":"Psum","s":"Fast","g":"O","x":93,"y":2.75,"lo":2.17,"hi":3.33},
{"m":"Psum","s":"Fast","g":"O","x":95,"y":2.5,"lo":1.95,"hi":3.05},
{"m":"Psum","s":"Fast","g":"O","x":97,"y":1.8,"lo":1.35,"hi":2.25},
{"m":"Psum","s":"Fast","g":"O","x":100,"y":0.95,"lo":0.65,"hi":1.25}
]},
"facet":{
 "row":{"field":"m","type":"nominal","sort":["Pankle","Pfoot","Psum"],"header":{"title":null,"labelExpr":"datum.value + ' (W/kg)'","labelAngle":-90,"labelOrient":"left","labelPadding":0}},
 "column":{"field":"s","type":"nominal","sort":["Slow","Comfortable","Fast"],"header":{"title":null,"labelPadding":2}}
},
"spacing":{"row":6,"column":10.5},
"spec":{"width":197,"height":131,"layer":[
 {"mark":{"type":"area","interpolate":"monotone","opacity":0.2},
  "encoding":{
   "x":{"field":"x","type":"quantitative","scale":{"domain":[0,100],"nice":false},"axis":{"values":[0,25,50,75,100],"labelFlush":false,"title":"Stance (%)","labelPadding":13,"titlePadding":6}},
   "y":{"field":"lo","type":"quantitative","scale":{"domain":[-3.7,5.5],"nice":false,"zero":false},"axis":{"values":[-2.5,0,2.5,5],"format":".1f","title":null,"labelPadding":9}},
   "y2":{"field":"hi"},
   "fill":{"field":"g","type":"nominal","scale":{"domain":["O","Y"],"range":["#e41a1c","#377eb8"]},"legend":null}}},
 {"mark":{"type":"line","interpolate":"monotone","strokeWidth":2.5},
  "encoding":{
   "x":{"field":"x","type":"quantitative","axis":{"values":[0,25,50,75,100],"labelFlush":false,"title":"Stance (%)","labelPadding":13,"titlePadding":6}},
   "y":{"field":"y","type":"quantitative","axis":{"values":[-2.5,0,2.5,5],"format":".1f","title":null,"labelPadding":9}},
   "color":{"field":"g","type":"nominal","scale":{"domain":["Y","O"],"range":["#377eb8","#e41a1c"]},
    "legend":{"title":"AgeGroup","orient":"top-left","offset":5,"titleFontSize":10,"titleFontWeight":"normal","labelFontSize":10,"symbolType":"M-0.6,0H2.4","symbolStrokeWidth":2.5,"symbolSize":169,"labelOffset":15,"strokeColor":"#cccccc","cornerRadius":3,"padding":5,"fillColor":"white","rowPadding":0,"titlePadding":3,"labelColor":"#262626","titleColor":"#262626"}}}},
 {"transform":[{"aggregate":[{"op":"count","as":"n"}],"groupby":["m","s"]}],
  "mark":{"type":"rule","color":"#cccccc","strokeWidth":1.2},
  "encoding":{"x":{"datum":0}}},
 {"transform":[{"aggregate":[{"op":"count","as":"n"}],"groupby":["m","s"]}],
  "mark":{"type":"rule","color":"#cccccc","strokeWidth":1.2},
  "encoding":{"y":{"datum":-3.7}}}
]}
}
